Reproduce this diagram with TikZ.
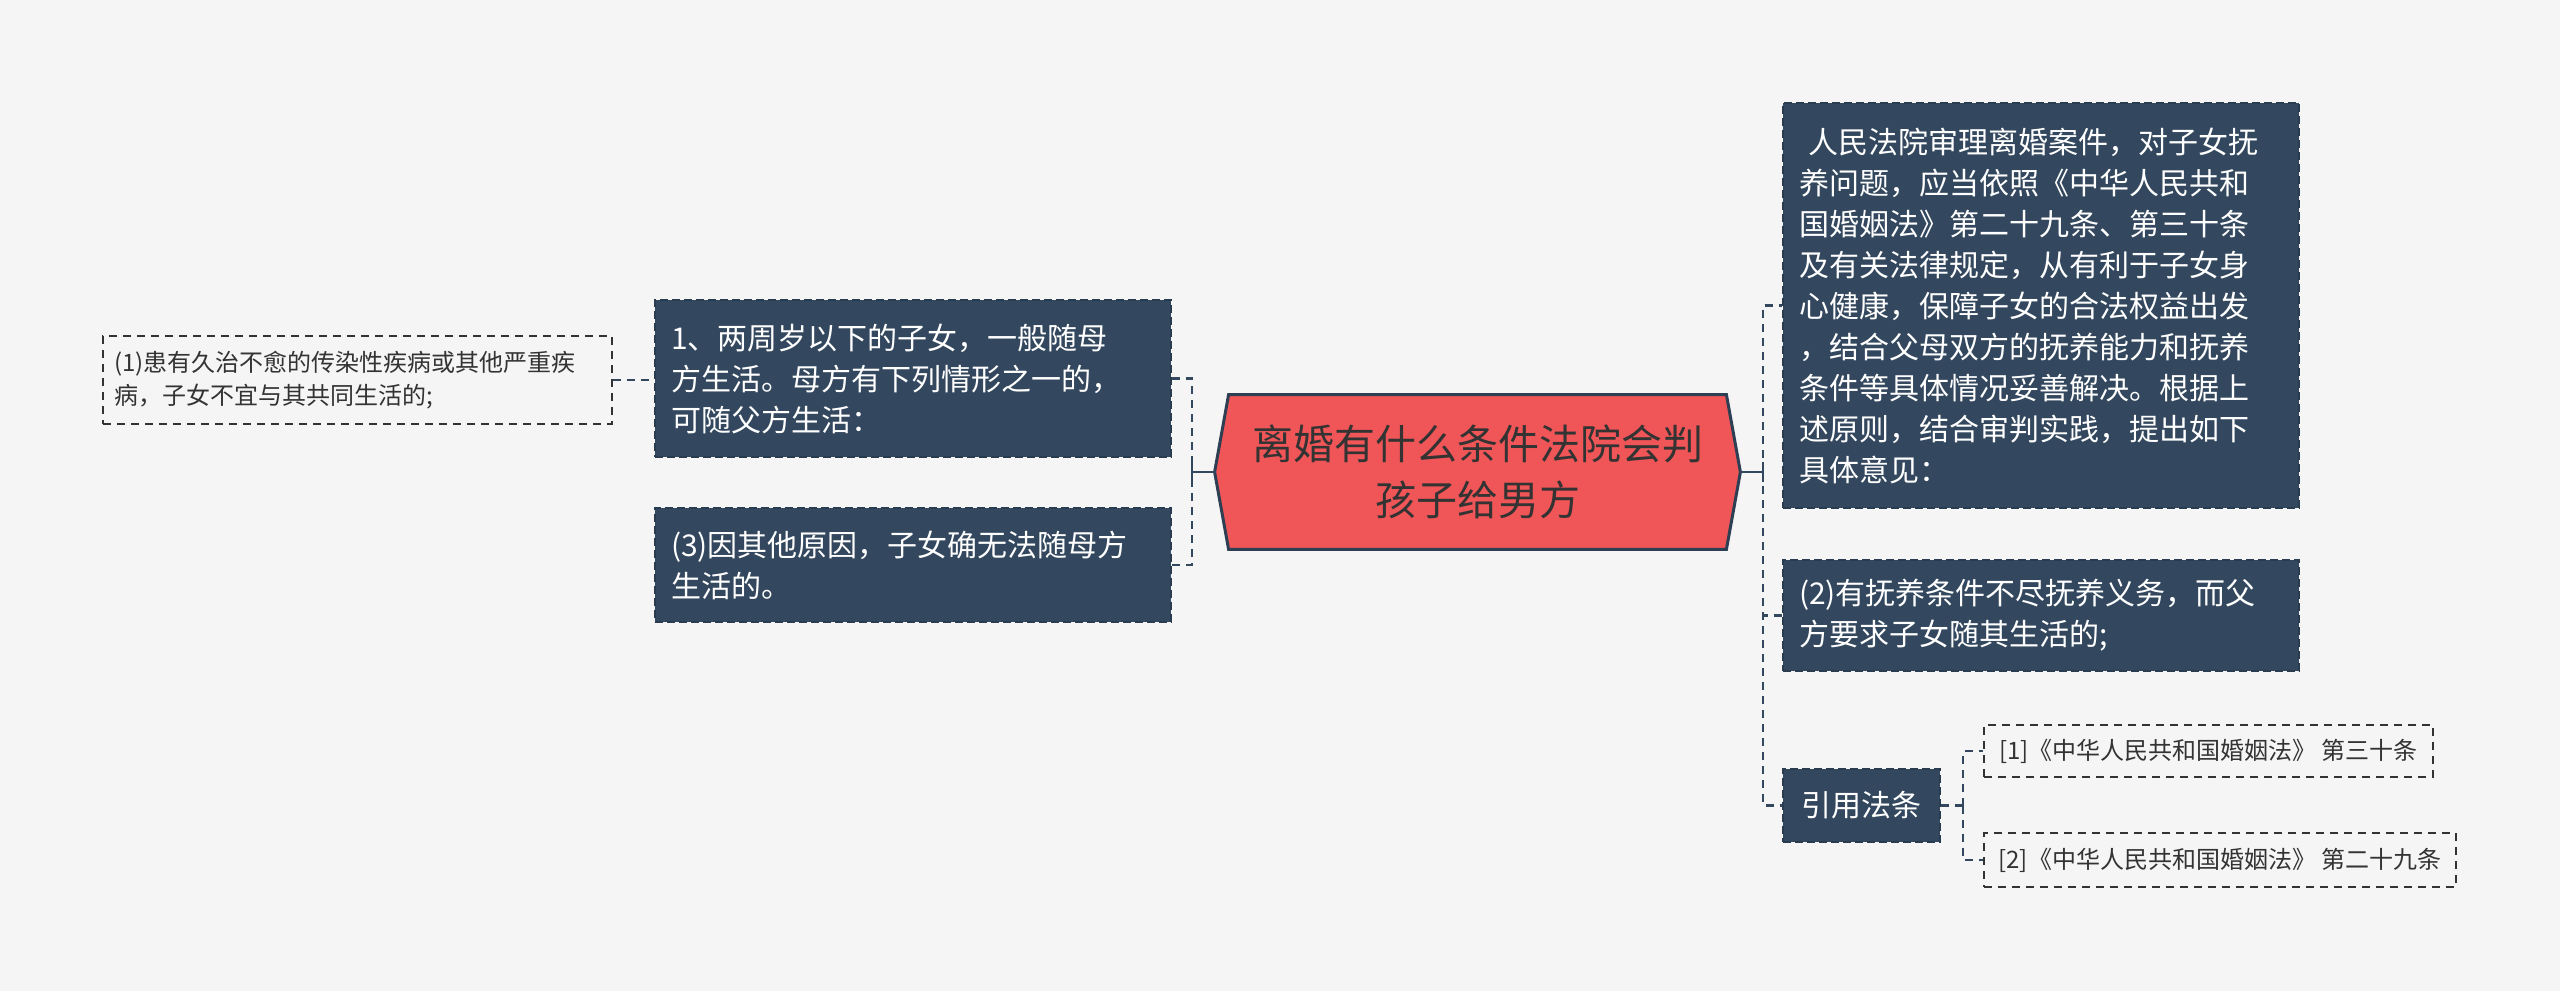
\documentclass[tikz,border=0pt]{standalone}
\usepackage{fontspec}
\setmainfont{Noto Sans CJK SC}
\definecolor{bgc}{HTML}{F5F5F5}
\definecolor{boxc}{HTML}{33485E}
\definecolor{boxd}{HTML}{2A3C4F}
\definecolor{hexc}{HTML}{F05557}
\definecolor{hexd}{HTML}{2E3F54}
\definecolor{txtd}{HTML}{333333}
\begin{document}
\begin{tikzpicture}[x=0.5pt,y=-0.5pt,
  bluebox/.style={rectangle, fill=boxc, draw=boxd, dashed, dash pattern=on 4pt off 2pt, line width=0.8pt,
    preaction={draw=bgc, solid, line width=0.8pt},
    text=white, font=\fontsize{15}{20.5}\selectfont, align=left, inner xsep=8pt, inner ysep=0pt},
  plainbox/.style={rectangle, draw=txtd, dashed, dash pattern=on 4pt off 3pt, line width=0.7pt,
    text=txtd, font=\fontsize{12}{16.5}\selectfont, align=left, inner xsep=5.5pt, inner ysep=0pt},
  sconn/.style={draw=boxc, line width=1.3pt},
  dconn/.style={draw=boxc, line width=1.3pt, dashed, dash pattern=on 4pt off 3pt}]
\fill[bgc] (0,0) rectangle (2560,991);
\useasboundingbox (0,0) rectangle (2560,991);

% central hexagon
\node[rectangle, minimum width=262.5pt, minimum height=77pt, inner sep=0pt,
  text=txtd, font=\fontsize{20.5}{28}\selectfont, align=center] (hex) at (1477.5,472) {};
\filldraw[fill=hexc, draw=hexd, line width=1.5pt, line join=miter]
  (hex.west) -- ([xshift=7pt]hex.north west) -- ([xshift=-7pt]hex.north east) -- (hex.east)
  -- ([xshift=-7pt]hex.south east) -- ([xshift=7pt]hex.south west) -- cycle;
\node[text=txtd, font=\fontsize{20.5}{28}\selectfont, align=center] (hext) at (hex.center) {离婚有什么条件法院会判\\孩子给男方};

% left side
\node[bluebox, minimum width=258pt, minimum height=78.5pt, text width=242pt] (b1) at (913,378.5)
  {1、两周岁以下的子女，一般随母\\方生活。母方有下列情形之一的，\\可随父方生活：};
\node[bluebox, minimum width=258pt, minimum height=57pt, text width=242pt] (b2) at (913,565)
  {(3)因其他原因，子女确无法随母方\\生活的。};
\node[plainbox, minimum width=254.5pt, minimum height=44pt, text width=243.5pt] (fl) at (357.5,380)
  {(1)患有久治不愈的传染性疾病或其他严重疾\\病，子女不宜与其共同生活的;};

% right side
\node[bluebox, minimum width=258pt, minimum height=202.5pt, text width=242pt] (r1) at (2041,305.5)
  {\hspace{0.3em}人民法院审理离婚案件，对子女抚\\养问题，应当依照《中华人民共和\\国婚姻法》第二十九条、第三十条\\及有关法律规定，从有利于子女身\\心健康，保障子女的合法权益出发\\，结合父母双方的抚养能力和抚养\\条件等具体情况妥善解决。根据上\\述原则，结合审判实践，提出如下\\具体意见：};
\node[bluebox, minimum width=258pt, minimum height=55.5pt, text width=242pt] (r2) at (2041,615.5)
  {(2)有抚养条件不尽抚养义务，而父\\方要求子女随其生活的;};
\node[bluebox, minimum width=78.5pt, minimum height=36.5pt, align=center] (r3) at (1861.5,805.5)
  {引用法条};
\node[plainbox, minimum width=224.5pt, minimum height=26pt] (ref1) at (2208.5,751)
  {[1]《中华人民共和国婚姻法》 第三十条};
\node[plainbox, minimum width=236pt, minimum height=27pt] (ref2) at (2220,860)
  {[2]《中华人民共和国婚姻法》 第二十九条};

% junctions
\coordinate (lj) at (1192,472);
\coordinate (rj) at (1763,472);
\coordinate (cj) at (1963,805.5);

% connectors
\draw[sconn] (hex.west) -- (lj);
\draw[sconn] ([yshift=-5pt]lj) -- ([yshift=5pt]lj);
\draw[dconn] (b1.east) -| (lj);
\draw[dconn] (b2.east) -| (lj);
\draw[dconn] (fl.east) -- (fl.east -| b1.west);

\draw[sconn] (hex.east) -- (rj);
\draw[sconn] ([yshift=-5pt]rj) -- ([yshift=5pt]rj);
\draw[dconn] (rj) |- (r1.west);
\draw[dconn] (rj) |- (r2.west);
\draw[dconn] (rj) |- (r3.west);

\draw[dconn] (r3.east) -- (cj);
\draw[dconn] (cj) |- (ref1.west);
\draw[dconn] (cj) |- (ref2.west);
\end{tikzpicture}
\end{document}
